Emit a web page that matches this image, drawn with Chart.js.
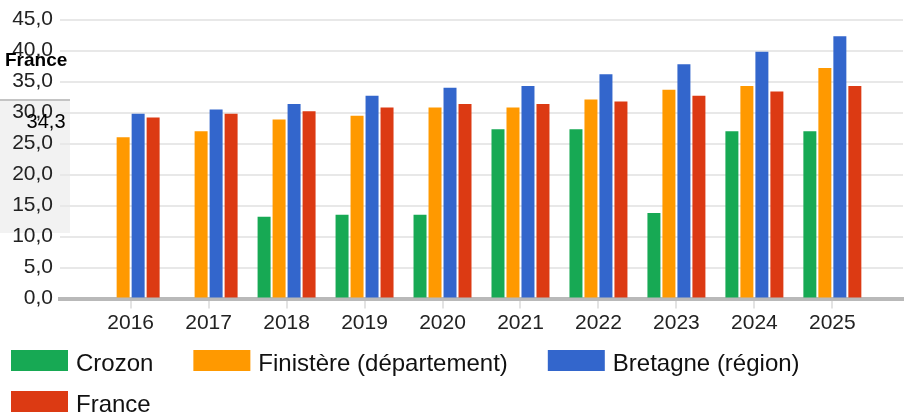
<!DOCTYPE html>
<html lang="fr">
<head>
<meta charset="utf-8">
<title>Crozon</title>
<script src="https://cdn.jsdelivr.net/npm/chart.js@4/dist/chart.umd.min.js"></script>
<style>
  html, body { margin: 0; padding: 0; background: #fff; }
  #wrap { width: 913px; height: 414px; }
</style>
</head>
<body>
<div id="wrap"><canvas id="chart" width="913" height="414"></canvas></div>
<script>
// Values per year, one array per territory
const years = [2016, 2017, 2018, 2019, 2020, 2021, 2022, 2023, 2024, 2025];
const crozon = [null, null, 13.2, 13.5, 13.5, 27.3, 27.3, 13.8, 27.0, 27.0];
const finistere = [26.0, 27.0, 28.9, 29.5, 30.8, 30.8, 32.1, 33.7, 34.3, 37.2];
const bretagne = [29.8, 30.5, 31.4, 32.7, 34.0, 34.3, 36.2, 37.8, 39.8, 42.3];
const france = [29.2, 29.8, 30.2, 30.8, 31.4, 31.4, 31.8, 32.7, 33.4, 34.3];
const seriesNames = ['Crozon', 'Finistère (département)', 'Bretagne (région)', 'France'];
const seriesColors = ['#17a954', '#ff9900', '#3366cc', '#dc3a13'];
const yTicks = [0, 5, 10, 15, 20, 25, 30, 35, 40, 45];

// hovered point shown in the left box
const hoverSeries = 3;
const hoverIndex = 9;

const FONT = '"Liberation Sans", Arial, Helvetica, sans-serif';
Chart.defaults.font.family = FONT;
Chart.defaults.color = '#222';

const fmt = v => v.toFixed(1).replace('.', ',');

function toPoints(values) {
    return years.map((y, i) => ({ x: y, y: values[i] }));
}

const datasets = [crozon, finistere, bretagne, france].map((vals, i) => ({
    label: seriesNames[i],
    data: toPoints(vals),
    backgroundColor: seriesColors[i],
    borderWidth: 0,
    categoryPercentage: 60 / 78,
    barPercentage: 13 / 15
}));

// Box with the hovered value, sitting behind the axis labels
const hoverBox = {
    id: 'hoverBox',
    beforeDraw(chart) {
        const ctx = chart.ctx;
        ctx.save();
        ctx.fillStyle = '#f2f2f2';
        ctx.fillRect(0, 100, 70, 133);
        ctx.fillStyle = '#c4c4c4';
        ctx.fillRect(0, 99, 70, 2);
        ctx.restore();
    },
    afterDraw(chart) {
        const ctx = chart.ctx;
        const ds = chart.data.datasets[hoverSeries];
        ctx.save();
        ctx.fillStyle = '#000';
        ctx.textBaseline = 'alphabetic';
        ctx.textAlign = 'left';
        ctx.font = 'bold 19px ' + FONT;
        ctx.fillText(ds.label, 5, 65.5);
        ctx.textAlign = 'right';
        ctx.font = '20px ' + FONT;
        ctx.fillText(fmt(ds.data[hoverIndex].y), 65.5, 127.5);
        ctx.restore();
    }
};

// Legend drawn under the axis, wrapping onto a second row
const bottomLegend = {
    id: 'bottomLegend',
    afterDraw(chart) {
        const ctx = chart.ctx;
        const boxW = 57, boxH = 21, gap = 8, itemGap = 40, rowH = 41;
        let x = 11, top = 350;
        ctx.save();
        ctx.font = '24px ' + FONT;
        ctx.textBaseline = 'alphabetic';
        ctx.textAlign = 'left';
        chart.data.datasets.forEach(ds => {
            const w = boxW + gap + ctx.measureText(ds.label).width;
            if (x + w > chart.width) {
                x = 11;
                top += rowH;
            }
            ctx.fillStyle = ds.backgroundColor;
            ctx.fillRect(x, top, boxW, boxH);
            ctx.fillStyle = '#111';
            ctx.fillText(ds.label, x + boxW + gap, top + 20.5);
            x += w + itemGap;
        });
        ctx.restore();
    }
};

new Chart(document.getElementById('chart'), {
    type: 'bar',
    data: { datasets },
    plugins: [hoverBox, bottomLegend],
    options: {
        responsive: false,
        animation: false,
        layout: { padding: { left: 0, right: 10, top: 18, bottom: 75.5 } },
        plugins: {
            legend: { display: false },
            tooltip: { enabled: false }
        },
        scales: {
            x: {
                type: 'linear',
                offset: false,
                min: 2015.094,
                max: 2025.906,
                afterBuildTicks: scale => {
                    scale.ticks = years.map(v => ({ value: v }));
                },
                afterFit: scale => { scale.height = 40; },
                grid: {
                    offset: false,
                    drawOnChartArea: false,
                    drawTicks: true,
                    tickLength: 10,
                    color: '#e3e3e3',
                    lineWidth: 2
                },
                border: { display: true, color: '#b9b9b9', width: 4 },
                ticks: {
                    padding: 2,
                    maxRotation: 0,
                    font: { size: 21 },
                    callback: v => String(v)
                }
            },
            y: {
                min: 0,
                max: 45,
                afterBuildTicks: scale => {
                    scale.ticks = yTicks.map(v => ({ value: v }));
                },
                afterFit: scale => { scale.width = 60; },
                grid: {
                    drawTicks: false,
                    lineWidth: 2,
                    color: c => c.tick && c.tick.value === 0 ? 'rgba(0,0,0,0)' : '#e8e8e8'
                },
                border: { display: false },
                ticks: {
                    padding: 7,
                    font: { size: 21 },
                    callback: v => fmt(v)
                }
            }
        }
    }
});
</script>
</body>
</html>
